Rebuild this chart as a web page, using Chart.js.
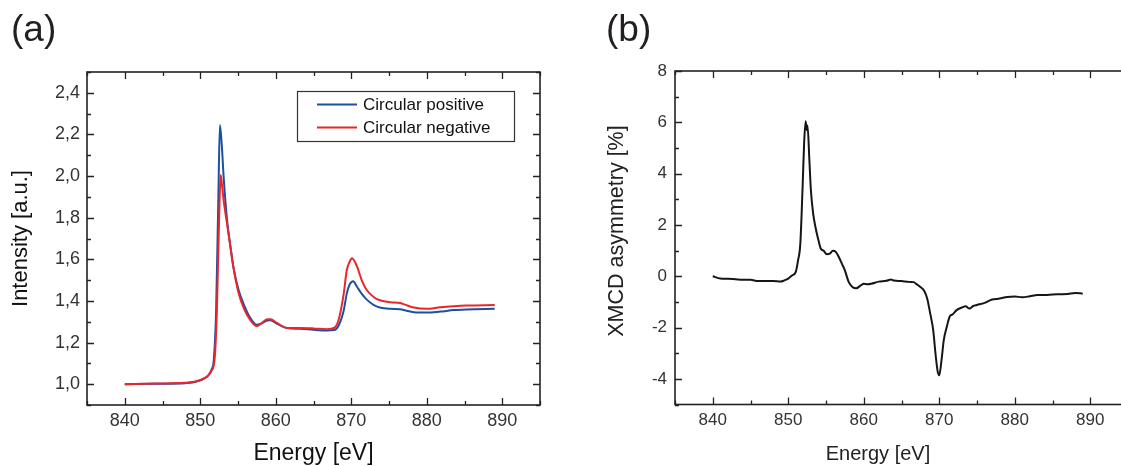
<!DOCTYPE html>
<html><head><meta charset="utf-8">
<script src="https://cdn.jsdelivr.net/npm/chart.js@4.4.1/dist/chart.umd.min.js"></script>
<style>
html,body{margin:0;padding:0;width:1121px;height:466px;overflow:hidden;background:#fff;}
#wrapA{position:absolute;left:0;top:0;width:560px;height:466px;}
#wrapB{position:absolute;left:560px;top:0;width:588px;height:466px;}
.panel{position:absolute;font-family:"Liberation Sans",Arial,sans-serif;font-size:37px;line-height:37px;color:#231f20;z-index:5;}
</style></head><body>
<div id="wrapA"><canvas id="cA" width="560" height="466" style="width:560px;height:466px"></canvas></div>
<div id="wrapB"><canvas id="cB" width="588" height="466" style="width:588px;height:466px"></canvas></div>
<div class="panel" style="left:11px;top:10px">(a)</div>
<div class="panel" style="left:606px;top:10px">(b)</div>
<script>
// ---------- Data ----------
const energyPos = [840, 844, 848, 849, 850, 850.5, 851, 851.5, 851.8, 852.1, 852.4, 852.6, 852.85, 853.1, 853.55, 854, 854.4, 855.1, 855.8, 856.6, 857.5, 858, 858.9, 859.3, 860.2, 861.5, 863.3, 865, 866.8, 867.7, 868.3, 869, 869.4, 869.8, 870.25, 870.8, 871.4, 872.1, 873, 873.9, 875.2, 876.5, 877.2, 878.3, 880, 881.8, 883.6, 885.3, 889];
const intensityPos = [1.0, 1.002, 1.005, 1.008, 1.018, 1.027, 1.04, 1.07, 1.12, 1.35, 1.9, 2.245, 2.15, 1.995, 1.79, 1.66, 1.56, 1.45, 1.38, 1.32, 1.285, 1.29, 1.306, 1.307, 1.29, 1.27, 1.266, 1.261, 1.258, 1.26, 1.28, 1.354, 1.434, 1.48, 1.495, 1.466, 1.434, 1.405, 1.38, 1.367, 1.362, 1.36, 1.354, 1.346, 1.344, 1.349, 1.356, 1.359, 1.362];
const energyNeg = [840, 844, 848, 849, 850, 850.5, 851, 851.5, 851.9, 852.2, 852.5, 852.7, 852.9, 853.1, 853.55, 854, 854.4, 855.1, 855.8, 856.6, 857.5, 858, 858.9, 859.3, 860.2, 861.5, 863.3, 865, 866.8, 867.7, 868.3, 869, 869.4, 869.8, 870.1, 870.8, 871.4, 872.1, 873, 873.9, 875.2, 876.5, 877.2, 878.3, 880, 881.8, 883.6, 885.3, 889];
const intensityNeg = [1.0, 1.003, 1.007, 1.01, 1.02, 1.028, 1.04, 1.065, 1.12, 1.35, 1.8, 2.005, 1.95, 1.883, 1.77, 1.66, 1.56, 1.434, 1.362, 1.31, 1.279, 1.29, 1.312, 1.312, 1.293, 1.27, 1.27, 1.268, 1.264, 1.27, 1.306, 1.434, 1.546, 1.59, 1.605, 1.562, 1.498, 1.45, 1.418, 1.402, 1.394, 1.39, 1.381, 1.368, 1.362, 1.37, 1.375, 1.378, 1.38];

const energyXmcd = [840, 841, 842, 843, 844, 845, 846, 847, 848, 849, 849.5, 850, 850.5, 851, 851.3, 851.6, 851.9, 852.1, 852.3, 852.45, 852.55, 852.8, 853.0, 853.3, 853.6, 854.0, 854.3, 854.7, 855.1, 855.5, 855.9, 856.3, 856.7, 857.1, 857.5, 858, 858.5, 859, 859.6, 860, 860.5, 861, 862, 863, 863.6, 864, 865, 866, 866.6, 867, 867.5, 868, 868.4, 868.8, 869.2, 869.5, 869.8, 870.0, 870.3, 870.6, 871.0, 871.4, 871.8, 872.3, 873, 873.5, 874, 874.5, 875, 876, 877, 878, 879, 880, 881, 882, 883, 884, 885, 886, 887, 888, 889];
const asymmetry = [0, -0.09, -0.10, -0.12, -0.14, -0.14, -0.19, -0.19, -0.19, -0.21, -0.16, -0.09, 0.03, 0.17, 0.62, 1.27, 3.48, 5.17, 6.04, 5.69, 5.88, 4.52, 3.35, 2.44, 1.92, 1.40, 1.08, 0.99, 0.86, 0.88, 0.99, 0.95, 0.75, 0.49, 0.23, -0.22, -0.42, -0.47, -0.36, -0.29, -0.31, -0.29, -0.21, -0.18, -0.13, -0.17, -0.19, -0.22, -0.23, -0.31, -0.42, -0.57, -0.87, -1.45, -2.10, -3.01, -3.73, -3.86, -3.27, -2.49, -1.97, -1.56, -1.48, -1.32, -1.22, -1.17, -1.26, -1.16, -1.12, -1.04, -0.91, -0.87, -0.81, -0.79, -0.82, -0.78, -0.73, -0.73, -0.71, -0.70, -0.69, -0.65, -0.68];

const xTicks = [840, 850, 860, 870, 880, 890];
const yTicksA = [1.0, 1.2, 1.4, 1.6, 1.8, 2.0, 2.2, 2.4];
const yTicksB = [-4, -2, 0, 2, 4, 6, 8];
const seriesLabels = ['Circular positive', 'Circular negative'];
const titleXA = 'Energy [eV]', titleYA = 'Intensity [a.u.]';
const titleXB = 'Energy [eV]', titleYB = 'XMCD asymmetry [%]';

// ---------- helpers ----------
const FONT = '"Liberation Sans", Arial, Helvetica, sans-serif';
const pts = (xs, ys) => xs.map((x, i) => ({x, y: ys[i]}));
const midpoints = (arr, lo, hi) => {
  const step = arr[1] - arr[0];
  const out = [];
  for (let v = arr[0] - step / 2; v < hi + 1e-9; v += step) if (v > lo - 1e-9) out.push(+v.toFixed(4));
  return out;
};

const frameTicks = {
  id: 'frameTicks',
  afterDatasetsDraw(chart, args, o) {
    const {ctx, chartArea: a, scales: {x, y}} = chart;
    ctx.save();
    ctx.strokeStyle = '#222';
    ctx.lineWidth = 1.6;
    ctx.strokeRect(a.left, a.top, a.right - a.left, a.bottom - a.top);
    ctx.lineWidth = 1.3;
    ctx.beginPath();
    const xm = (vals, len) => vals.forEach(v => {
      const p = Math.round(x.getPixelForValue(v)) + 0.5;
      ctx.moveTo(p, a.bottom); ctx.lineTo(p, a.bottom - len);
      ctx.moveTo(p, a.top); ctx.lineTo(p, a.top + len);
    });
    const ym = (vals, len) => vals.forEach(v => {
      const p = Math.round(y.getPixelForValue(v)) + 0.5;
      ctx.moveTo(a.left, p); ctx.lineTo(a.left + len, p);
      ctx.moveTo(a.right, p); ctx.lineTo(a.right - len, p);
    });
    xm(o.xMajor, 7); xm(o.xMinor, 4);
    ym(o.yMajor, 7); ym(o.yMinor, 4);
    ctx.stroke();
    ctx.restore();
  }
};

const legendBox = {
  id: 'legendBox',
  afterDraw(chart) {
    const ctx = chart.ctx;
    ctx.save();
    ctx.strokeStyle = '#333';
    ctx.lineWidth = 1.2;
    ctx.strokeRect(297.5, 91.5, 217, 50);
    ctx.font = '17px ' + FONT;
    ctx.textBaseline = 'middle';
    ctx.textAlign = 'left';
    const rows = [104.5, 127.5];
    seriesLabels.forEach((lab, i) => {
      const ds = chart.data.datasets.find(d => d.label === lab);
      ctx.strokeStyle = ds.borderColor;
      ctx.lineWidth = 2;
      ctx.beginPath(); ctx.moveTo(317, rows[i]); ctx.lineTo(357, rows[i]); ctx.stroke();
      ctx.fillStyle = '#111';
      ctx.fillText(lab, 363, rows[i] + 1);
    });
    ctx.restore();
  }
};

const titlesB = {
  id: 'titlesB',
  afterDraw(chart) {
    const ctx = chart.ctx;
    ctx.save();
    ctx.fillStyle = '#222';
    ctx.textAlign = 'center';
    ctx.textBaseline = 'middle';
    ctx.font = '20px ' + FONT;
    ctx.fillText(titleXB, 318, 454);
    ctx.font = '21.5px ' + FONT;
    ctx.translate(57, 231);
    ctx.rotate(-Math.PI / 2);
    ctx.fillText(titleYB, 0, 0);
    ctx.restore();
  }
};

Chart.defaults.font.family = FONT;
Chart.defaults.animation = false;

// ---------- Chart (a) ----------
new Chart(document.getElementById('cA'), {
  type: 'line',
  data: {
    datasets: [
      {label: seriesLabels[0], data: pts(energyPos, intensityPos), borderColor: '#1d4fa2', borderWidth: 2, pointRadius: 0, cubicInterpolationMode: 'monotone', order: 1},
      {label: seriesLabels[1], data: pts(energyNeg, intensityNeg), borderColor: '#e8262b', borderWidth: 2, pointRadius: 0, cubicInterpolationMode: 'monotone', order: 0}
    ]
  },
  options: {
    responsive: false,
    animation: false,
    layout: {padding: {top: 72, right: 20, left: 0, bottom: 0}},
    plugins: {
      legend: {display: false}, tooltip: {enabled: false},
      frameTicks: {xMajor: xTicks, xMinor: midpoints(xTicks, 835, 895), yMajor: yTicksA, yMinor: midpoints(yTicksA, 0.9, 2.5)}
    },
    scales: {
      x: {
        type: 'linear', min: 835, max: 895,
        afterBuildTicks: s => { s.ticks = xTicks.map(v => ({value: v})); },
        afterFit: s => { s.height = 61; },
        grid: {display: false, drawTicks: false}, border: {display: false},
        ticks: {padding: 5, color: '#333', font: {size: 18}, callback: v => String(v)},
        title: {display: true, text: titleXA, color: '#111', font: {size: 23, lineHeight: 1}, padding: {top: 0, bottom: 0.5}}
      },
      y: {
        type: 'linear', min: 0.9, max: 2.5,
        afterBuildTicks: s => { s.ticks = yTicksA.map(v => ({value: v})); },
        afterFit: s => { s.width = 87; },
        grid: {display: false, drawTicks: false}, border: {display: false},
        ticks: {padding: 7, color: '#333', font: {size: 18}, callback: v => v.toFixed(1).replace('.', ',')},
        title: {display: true, text: titleYA, color: '#111', font: {size: 22, lineHeight: 1}, padding: {top: 10, bottom: 0}}
      }
    }
  },
  plugins: [frameTicks, legendBox]
});

// ---------- Chart (b) ----------
new Chart(document.getElementById('cB'), {
  type: 'line',
  data: {
    datasets: [
      {label: 'XMCD', data: pts(energyXmcd, asymmetry), borderColor: '#151515', borderWidth: 2, pointRadius: 0, cubicInterpolationMode: 'monotone'}
    ]
  },
  options: {
    responsive: false,
    animation: false,
    layout: {padding: {top: 71, right: 20, left: 0, bottom: 0}},
    plugins: {
      legend: {display: false}, tooltip: {enabled: false},
      frameTicks: {xMajor: xTicks, xMinor: midpoints(xTicks, 835, 895), yMajor: yTicksB, yMinor: midpoints(yTicksB, -5, 8)}
    },
    scales: {
      x: {
        type: 'linear', min: 835, max: 895,
        afterBuildTicks: s => { s.ticks = xTicks.map(v => ({value: v})); },
        afterFit: s => { s.height = 61.5; },
        grid: {display: false, drawTicks: false}, border: {display: false},
        ticks: {padding: 6, color: '#333', font: {size: 17}, callback: v => String(v)},
        title: {display: false}
      },
      y: {
        type: 'linear', min: -5, max: 8,
        afterBuildTicks: s => { s.ticks = yTicksB.map(v => ({value: v})); },
        afterFit: s => { s.width = 115; },
        grid: {display: false, drawTicks: false}, border: {display: false},
        ticks: {padding: 8, color: '#333', font: {size: 17}, callback: v => String(v)},
        title: {display: false}
      }
    }
  },
  plugins: [frameTicks, titlesB]
});
</script>
</body></html>
